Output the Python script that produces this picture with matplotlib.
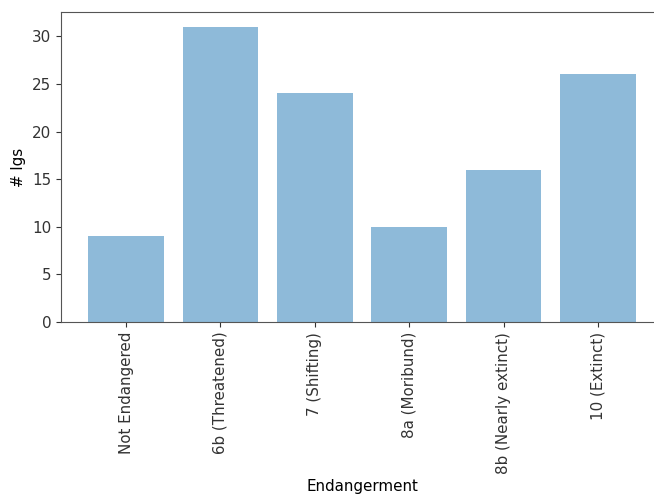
import matplotlib
matplotlib.use("Agg")
import matplotlib.pyplot as plt

categories = ["Not Endangered", "6b (Threatened)", "7 (Shifting)", "8a (Moribund)",
              "8b (Nearly extinct)", "10 (Extinct)"]
counts = [9, 31, 24, 10, 16, 26]

plt.rcParams["font.size"] = 10.9

fig = plt.figure(figsize=(6.54, 4.98), dpi=100)
ax = fig.add_axes([0.0933, 0.3534, 0.9205, 0.6225])
ax.bar(range(len(categories)), counts, align="center", alpha=0.5)
ax.set_xticks(range(len(categories)))
ax.set_xticklabels(categories, rotation=90)
ax.set_ylabel("# lgs")
ax.set_xlabel("Endangerment")
for sp in ax.spines.values():
    sp.set_color("#555555")
ax.tick_params(colors="#333333")
fig.savefig("out.png", dpi=100)
